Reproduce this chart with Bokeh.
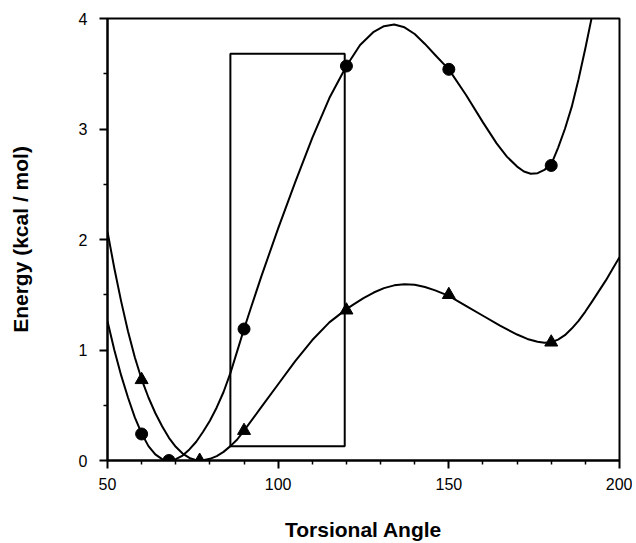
from bokeh.plotting import figure
from bokeh.models import Range1d, FixedTicker
from bokeh.embed import file_html
from bokeh.resources import INLINE

# ---- data ----
circle_x = [60, 68, 90, 120, 150, 180]
circle_y = [0.24, 0.0, 1.19, 3.57, 3.54, 2.67]

tri_x = [60, 77, 90, 120, 150, 180]
tri_y = [0.73, 0.0, 0.27, 1.36, 1.50, 1.07]

# smooth fitted curve (circles)
curve_c_x = [50, 52, 54, 56, 58, 60, 62, 64, 66, 68, 70, 72, 74, 76, 78, 80, 82, 84, 86, 88,
             90, 92, 95, 100, 105, 110, 115, 120, 124, 128, 131, 134, 137, 140, 143, 146,
             150, 155, 160, 164, 167, 170, 172, 174, 176, 178, 180, 182, 184, 186, 188,
             190, 192, 193]
curve_c_y = [1.26, 1.00, 0.77, 0.57, 0.39, 0.245, 0.13, 0.055, 0.012, 0.0, 0.012, 0.045, 0.10,
             0.17, 0.26, 0.36, 0.48, 0.62, 0.79, 0.99, 1.19, 1.38, 1.66, 2.10, 2.52, 2.92,
             3.28, 3.57, 3.76, 3.88, 3.93, 3.945, 3.92, 3.86, 3.77, 3.67, 3.54, 3.31, 3.06,
             2.87, 2.75, 2.66, 2.615, 2.595, 2.60, 2.63, 2.68, 2.83, 3.00, 3.20, 3.45, 3.73,
             4.03, 4.20]

# smooth fitted curve (triangles)
curve_t_x = [50, 52, 54, 56, 58, 60, 62, 64, 66, 68, 70, 72, 74, 76, 77, 78, 80, 82, 84, 86,
             88, 90, 95, 100, 105, 110, 115, 120, 122, 125, 128, 131, 134, 137, 140, 143,
             146, 150, 155, 160, 165, 170, 173, 176, 178, 180, 182, 184, 186, 188, 190, 192,
             194, 196, 198, 200]
curve_t_y = [2.07, 1.74, 1.44, 1.17, 0.935, 0.735, 0.57, 0.43, 0.31, 0.205, 0.124, 0.063, 0.023,
             0.003, 0.0, 0.003, 0.015, 0.04, 0.078, 0.13, 0.19, 0.27, 0.48, 0.69, 0.90, 1.09,
             1.25, 1.37, 1.41, 1.47, 1.52, 1.56, 1.585, 1.595, 1.59, 1.57, 1.54, 1.49, 1.40,
             1.31, 1.22, 1.14, 1.10, 1.075, 1.065, 1.07, 1.094, 1.134, 1.194, 1.264, 1.348,
             1.44, 1.535, 1.63, 1.735, 1.84]

# highlighted window
box_left = [86]
box_right = [119.5]
box_bottom = [0.13]
box_top = [3.68]

x_major = [50, 100, 150, 200]
x_minor = [60, 70, 80, 90, 110, 120, 130, 140, 160, 170, 180, 190]
y_major = [0, 1, 2, 3, 4]
y_minor = [0.5, 1.5, 2.5, 3.5]

FONT = "Liberation Sans"

p = figure(width=632, height=543, x_range=Range1d(50, 200), y_range=Range1d(0, 4),
           output_backend="svg", toolbar_location=None,
           min_border_left=107, min_border_right=13, min_border_top=18, min_border_bottom=83)

p.xgrid.visible = False
p.ygrid.visible = False
p.outline_line_color = "black"
p.outline_line_width = 2
p.background_fill_color = "white"
p.border_fill_color = "white"

p.xaxis.ticker = FixedTicker(ticks=x_major, minor_ticks=x_minor)
p.yaxis.ticker = FixedTicker(ticks=y_major, minor_ticks=y_minor)

for ax in (p.xaxis[0], p.yaxis[0]):
    ax.axis_line_color = "black"
    ax.axis_line_width = 2
    ax.major_tick_line_color = "black"
    ax.major_tick_line_width = 2
    ax.major_tick_out = 8
    ax.major_tick_in = 0
    ax.minor_tick_line_color = "black"
    ax.minor_tick_line_width = 1.5
    ax.minor_tick_out = 4
    ax.minor_tick_in = 0
    ax.major_label_text_font = FONT
    ax.major_label_text_font_size = "16px"
    ax.major_label_text_color = "black"
    ax.axis_label_text_font = FONT
    ax.axis_label_text_font_style = "bold"
    ax.axis_label_text_font_size = "21px"
    ax.axis_label_text_color = "black"

p.xaxis.axis_label = "Torsional Angle"
p.yaxis.axis_label = "Energy (kcal / mol)"
p.xaxis.major_label_standoff = 9
p.yaxis.major_label_standoff = 12
p.xaxis.axis_label_standoff = 25
p.yaxis.axis_label_standoff = 44

p.quad(left=box_left, right=box_right, bottom=box_bottom, top=box_top,
       fill_color=None, line_color="black", line_width=2)

p.line(curve_c_x, curve_c_y, line_color="black", line_width=2, line_join="round")
p.line(curve_t_x, curve_t_y, line_color="black", line_width=2, line_join="round")

p.scatter(circle_x, circle_y, marker="circle", size=12, fill_color="black", line_color="black")
p.scatter(tri_x, tri_y, marker="triangle", size=13, fill_color="black", line_color="black")

open("out.html", "w").write(file_html(p, INLINE))
